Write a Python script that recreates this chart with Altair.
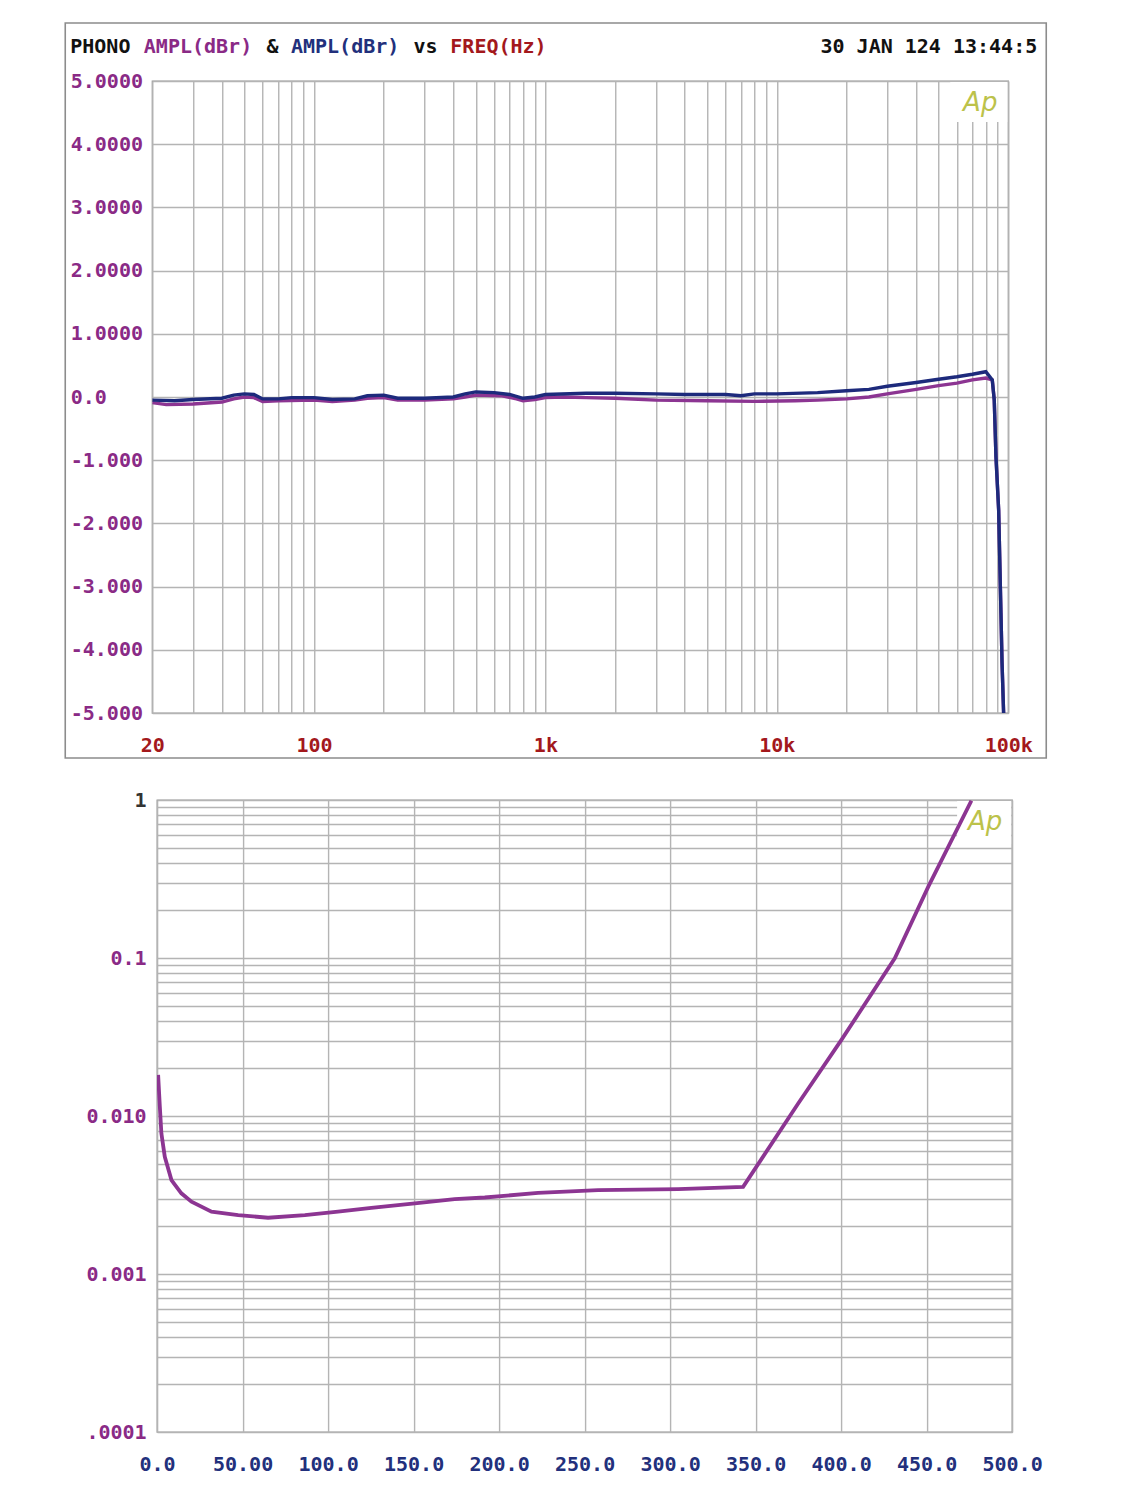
import altair as alt
import pandas as pd

# ---------------- data: frequency response (top) ----------------
freq_purple = [20, 23, 30, 40, 45, 50, 55, 60, 70, 100, 120, 150, 170, 200, 230, 300, 400, 450,
               500, 650, 750, 800, 900, 1000, 1200, 1500, 2000, 3000, 5000, 8000, 12000, 15000,
               20000, 25000, 30000, 40000, 50000, 60000, 70000, 80000, 85300, 87000, 88500,
               90900, 93000, 94000, 95500]
ampl_purple = [-0.09, -0.12, -0.11, -0.08, -0.03, 0.0, -0.01, -0.07, -0.06, -0.05, -0.07, -0.05,
               -0.02, -0.01, -0.05, -0.05, -0.03, 0.0, 0.03, 0.02, -0.03, -0.06, -0.04, -0.01,
               0.0, -0.01, -0.02, -0.05, -0.06, -0.07, -0.06, -0.05, -0.03, 0.0, 0.05, 0.12,
               0.18, 0.22, 0.27, 0.30, 0.27, -0.05, -0.95, -1.79, -3.42, -4.2, -5.0]

freq_blue = [20, 25, 30, 40, 45, 50, 55, 60, 70, 80, 100, 120, 150, 170, 200, 230, 300, 400, 450,
             500, 600, 700, 800, 900, 1000, 1500, 2000, 3000, 4000, 6000, 7000, 8000, 10000,
             15000, 20000, 25000, 30000, 40000, 50000, 60000, 70000, 80000, 85300, 87000,
             88500, 90900, 93000, 94000, 95500]
ampl_blue = [-0.05, -0.06, -0.04, -0.02, 0.03, 0.05, 0.04, -0.03, -0.03, -0.01, -0.01, -0.04,
             -0.03, 0.02, 0.03, -0.02, -0.02, 0.0, 0.05, 0.08, 0.07, 0.04, -0.02, 0.0, 0.04,
             0.06, 0.06, 0.05, 0.04, 0.04, 0.02, 0.05, 0.05, 0.07, 0.10, 0.12, 0.17, 0.23,
             0.28, 0.32, 0.36, 0.40, 0.27, -0.05, -0.95, -1.79, -3.42, -4.2, -5.0]

freq_grid = [m * 10 ** d for d in range(1, 5) for m in range(1, 10) if m * 10 ** d >= 20] + [100000]
ampl_ticks = [-5, -4, -3, -2, -1, 0, 1, 2, 3, 4, 5]

# ---------------- data: THD+N vs power (bottom) ----------------
power_w = [0.6, 1.6, 2.5, 4.5, 8.4, 14.2, 20.1, 31.8, 47.4, 64.9, 86.4, 105.8, 125.3, 150.7,
           174.0, 191.6, 222.8, 257.9, 304.7, 342.7, 374.9, 400.2, 431.4, 451.0, 476.2]
thd_pct = [0.0182, 0.01145, 0.00777, 0.00552, 0.00393, 0.00324, 0.00287, 0.00248, 0.00236,
           0.00227, 0.00236, 0.00248, 0.00262, 0.0028, 0.00298, 0.00305, 0.00326, 0.0034,
           0.00345, 0.00356, 0.012, 0.0303, 0.0996, 0.283, 0.99]

thd_grid = [1e-4, 2e-4, 3e-4, 4e-4, 5e-4, 6e-4, 7e-4, 8e-4, 9e-4,
            0.001, 0.002, 0.003, 0.004, 0.005, 0.006, 0.007, 0.008, 0.009,
            0.01, 0.02, 0.03, 0.04, 0.05, 0.06, 0.07, 0.08, 0.09,
            0.1, 0.2, 0.3, 0.4, 0.5, 0.6, 0.7, 0.8, 0.9, 1]
power_ticks = [0, 50, 100, 150, 200, 250, 300, 350, 400, 450, 500]

# ---------------- styling ----------------
MONO = "DejaVu Sans Mono"
PURPLE = "#8a2a86"
LINE_PURPLE = "#8c3592"
LINE_BLUE = "#1d2a7c"
DARK_RED = "#a3181c"
DARK_BLUE = "#22307c"
GRID = "#b4b4b4"
AP = "#bcc24a"

W, H = 856, 632

df_p = pd.DataFrame({"freq": freq_purple, "ampl": ampl_purple})
df_b = pd.DataFrame({"freq": freq_blue, "ampl": ampl_blue})
df_thd = pd.DataFrame({"power": power_w, "thd": thd_pct})
one = pd.DataFrame({"k": [0]})

x_top = alt.X(
    "freq:Q",
    scale=alt.Scale(type="log", domain=[20, 100000], nice=False),
    axis=alt.Axis(
        values=freq_grid, title=None, grid=True, ticks=False, tickSize=0, domain=False,
        labelExpr="datum.value == 20 ? '20' : datum.value == 100 ? '100' : datum.value == 1000 ? '1k' : datum.value == 10000 ? '10k' : datum.value == 100000 ? '100k' : ''",
        labelColor=DARK_RED, labelFont=MONO, labelFontSize=20, labelFontWeight="bold",
        labelPadding=22, labelFlush=False, labelOverlap=False,
        gridColor=GRID, gridWidth=1.4,
    ),
)
y_top = alt.Y(
    "ampl:Q",
    scale=alt.Scale(domain=[-5, 5], nice=False),
    axis=alt.Axis(
        values=ampl_ticks, title=None, grid=True, ticks=False, tickSize=0, domain=False,
        labelExpr="datum.value > 0 ? format(datum.value, '.4f') : datum.value == 0 ? '0.0' : '-' + format(-datum.value, '.3f')",
        labelColor=PURPLE, labelFont=MONO, labelFontSize=20, labelFontWeight="bold",
        labelAlign="left", labelPadding=82, labelFlush=False, labelOverlap=False,
        gridColor=GRID, gridWidth=1.4,
    ),
)

line_p = alt.Chart(df_p).mark_line(color=LINE_PURPLE, strokeWidth=3.4, clip=True).encode(x=x_top, y=y_top)
line_b = alt.Chart(df_b).mark_line(color=LINE_BLUE, strokeWidth=3.4, clip=True).encode(x=x_top, y=y_top)

frame = alt.Chart(one).mark_rect(filled=False, stroke="#8c8c8c", strokeWidth=1.6).encode(
    x=alt.value(-87), x2=alt.value(894), y=alt.value(-58), y2=alt.value(677)
)
ap_box_top = alt.Chart(one).mark_rect(fill="white").encode(
    x=alt.value(798), x2=alt.value(855), y=alt.value(1), y2=alt.value(41)
)
ap_top = alt.Chart(one).mark_text(text="Ap", font="DejaVu Sans", fontSize=26, fontStyle="italic",
                                  color=AP, align="center", baseline="middle").encode(
    x=alt.value(828), y=alt.value(22)
)

CH = 12.26
title_parts = [
    ("PHONO", 0, "#111111"),
    ("AMPL(dBr)", 6, PURPLE),
    ("&", 16, "#111111"),
    ("AMPL(dBr)", 18, DARK_BLUE),
    ("vs", 28, "#111111"),
    ("FREQ(Hz)", 31, DARK_RED),
]
title_layers = []
for txt, off, col in title_parts:
    title_layers.append(
        alt.Chart(one).mark_text(text=txt, font=MONO, fontSize=20, fontWeight="bold", color=col,
                                 align="left", baseline="middle").encode(
            x=alt.value(-82 + off * CH), y=alt.value(-34)
        )
    )
date_txt = alt.Chart(one).mark_text(text="30 JAN 124 13:44:5", font=MONO, fontSize=20,
                                    fontWeight="bold", color="#111111", align="right",
                                    baseline="middle").encode(x=alt.value(885), y=alt.value(-34))

top = alt.layer(frame, line_p, line_b, ap_box_top, ap_top, *title_layers, date_txt).properties(
    width=W, height=H
)

# ---------------- bottom ----------------
x_bot = alt.X(
    "power:Q",
    scale=alt.Scale(domain=[0, 500], nice=False),
    axis=alt.Axis(
        values=power_ticks, title=None, grid=True, ticks=False, tickSize=0, domain=False,
        labelExpr="datum.value == 0 ? '0.0' : datum.value == 50 ? '50.00' : format(datum.value, '.1f')",
        labelColor=DARK_BLUE, labelFont=MONO, labelFontSize=20, labelFontWeight="bold",
        labelPadding=22, labelFlush=False, labelOverlap=False,
        gridColor=GRID, gridWidth=1.4,
    ),
)
y_bot = alt.Y(
    "thd:Q",
    scale=alt.Scale(type="log", domain=[0.0001, 1], nice=False),
    axis=alt.Axis(
        values=thd_grid, title=None, grid=True, ticks=False, tickSize=0, domain=False,
        labelExpr="datum.value == 1 ? '1' : datum.value == 0.1 ? '0.1' : datum.value == 0.01 ? '0.010' : datum.value == 0.001 ? '0.001' : datum.value == 0.0001 ? '.0001' : ''",
        labelColor=alt.condition("datum.value == 1", alt.value("#333333"), alt.value(PURPLE)),
        labelFont=MONO, labelFontSize=20, labelFontWeight="bold",
        labelPadding=11, labelFlush=False, labelOverlap=False,
        gridColor=GRID, gridWidth=1.4,
    ),
)

ap_box_bot = alt.Chart(one).mark_rect(fill="white").encode(
    x=alt.value(800), x2=alt.value(854), y=alt.value(1), y2=alt.value(44)
)
# invisible spacer so the centred column puts this plot slightly to the right
spacer = alt.Chart(one).mark_rect(fill="white", opacity=0).encode(
    x=alt.value(864), x2=alt.value(868), y=alt.value(300), y2=alt.value(302)
)
line_thd = alt.Chart(df_thd).mark_line(color=LINE_PURPLE, strokeWidth=3.8, clip=True).encode(x=x_bot, y=y_bot)
ap_bot = alt.Chart(one).mark_text(text="Ap", font="DejaVu Sans", fontSize=26, fontStyle="italic",
                                  color=AP, align="center", baseline="middle").encode(
    x=alt.value(828), y=alt.value(22)
)

bottom = alt.layer(ap_box_bot, spacer, line_thd, ap_bot).properties(width=855, height=H)

chart = alt.vconcat(top, bottom, spacing=29, center=True).properties(
    padding={"left": 63, "top": 21, "right": 10, "bottom": 10},
    background="white",
).configure_view(stroke="#9a9a9a", strokeWidth=1.4)

chart.save("out.html", embed_options={"renderer": "svg", "actions": False})
